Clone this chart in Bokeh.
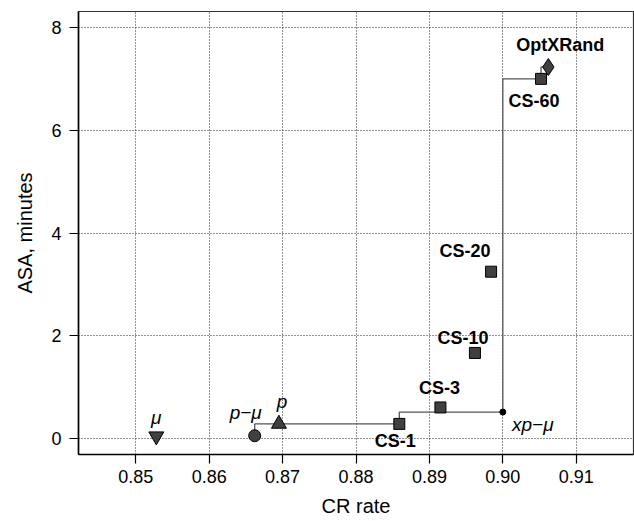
from bokeh.plotting import figure
from bokeh.models import Range1d, FixedTicker, NumeralTickFormatter, Label
from bokeh.embed import file_html
from bokeh.resources import INLINE

# ---- data ----
cs_names = ["CS-1", "CS-3", "CS-10", "CS-20", "CS-60"]
cs_cr = [0.8859, 0.8915, 0.8962, 0.8984, 0.9052]
cs_asa = [0.29, 0.61, 1.67, 3.25, 7.00]

mu_cr, mu_asa = [0.8528], [0.05]
pmu_cr, pmu_asa = [0.8662], [0.06]
p_cr, p_asa = [0.8695], [0.29]
xpmu_cr, xpmu_asa = [0.9000], [0.52]
opt_cr, opt_asa = [0.9062], [7.23]

# Pareto frontier (step line)
front_cr = [0.8662, 0.8859, 0.9000, 0.9052, 0.9062]
front_asa = [0.06, 0.29, 0.52, 7.00, 7.23]

x_ticks = [0.85, 0.86, 0.87, 0.88, 0.89, 0.90, 0.91]
y_ticks = [0, 2, 4, 6, 8]

FONT = "Liberation Sans"
FILL = "#404040"

p = figure(width=634, height=521, output_backend="svg", toolbar_location=None,
           x_range=Range1d(0.8422, 0.9178), y_range=Range1d(-0.305, 8.31),
           min_border_left=78, min_border_right=1, min_border_top=11, min_border_bottom=67)

p.background_fill_color = "white"
p.border_fill_color = "white"
p.outline_line_color = "#333333"
p.outline_line_width = 1.2

# grid
for g in (p.xgrid, p.ygrid):
    g.grid_line_color = "black"
    g.grid_line_dash = "1 2"
    g.grid_line_width = 1
    g.grid_line_alpha = 0.85
p.xgrid.ticker = FixedTicker(ticks=x_ticks)
p.ygrid.ticker = FixedTicker(ticks=y_ticks)

# axes
p.xaxis.ticker = FixedTicker(ticks=x_ticks)
p.yaxis.ticker = FixedTicker(ticks=y_ticks)
p.xaxis.formatter = NumeralTickFormatter(format="0.00")
p.xaxis.axis_label = "CR rate"
p.yaxis.axis_label = "ASA, minutes"
for ax in (p.xaxis, p.yaxis):
    ax.axis_line_color = "black"
    ax.axis_line_width = 1.6
    ax.major_tick_line_color = "black"
    ax.major_tick_line_width = 1.2
    ax.major_tick_out = 9
    ax.major_tick_in = 0
    ax.minor_tick_line_color = None
    ax.major_label_text_font = FONT
    ax.major_label_text_font_size = "18px"
    ax.major_label_text_color = "black"
    ax.axis_label_text_font = FONT
    ax.axis_label_text_font_size = "20px"
    ax.axis_label_text_font_style = "normal"
    ax.axis_label_text_color = "black"
p.xaxis.major_label_standoff = 6
p.yaxis.major_label_standoff = 8
p.xaxis.axis_label_standoff = 9
p.yaxis.axis_label_standoff = 12

# frontier step line
p.step(front_cr, front_asa, mode="before", line_color="#555555", line_width=1.3)

# markers
p.scatter(cs_cr, cs_asa, marker="square", size=11, fill_color=FILL, line_color="black", line_width=1)
p.scatter(mu_cr, mu_asa, marker="inverted_triangle", size=15, fill_color=FILL, line_color="black", line_width=1)
p.scatter(pmu_cr, pmu_asa, marker="circle", size=12, fill_color=FILL, line_color="black", line_width=1)
p.scatter(p_cr, p_asa, marker="triangle", size=15, fill_color=FILL, line_color="black", line_width=1)
p.scatter(opt_cr, opt_asa, marker="diamond", size=17, fill_color=FILL, line_color="black", line_width=1)
p.scatter(xpmu_cr, xpmu_asa, marker="circle", size=6, fill_color="black", line_color="black")

# labels (screen offsets: right, up)
bold_offsets = {"CS-1": (-4, -17), "CS-3": (-1, 19), "CS-10": (-12, 15),
                "CS-20": (-26, 21), "CS-60": (-7, -22)}
for name, x, y in zip(cs_names, cs_cr, cs_asa):
    dx, dy = bold_offsets[name]
    p.add_layout(Label(x=x, y=y, x_offset=dx, y_offset=dy, text=name,
                       text_font=FONT, text_font_size="18px", text_font_style="bold",
                       text_align="center", text_baseline="middle", text_color="black"))

p.add_layout(Label(x=opt_cr[0], y=opt_asa[0], x_offset=12, y_offset=22, text="OptXRand",
                   text_font=FONT, text_font_size="18px", text_font_style="bold",
                   text_align="center", text_baseline="middle", text_color="black"))

italic_labels = [("\u03bc", mu_cr[0], mu_asa[0], 0, 19),
                 ("p\u2212\u03bc", pmu_cr[0], pmu_asa[0], -9, 23),
                 ("p", p_cr[0], p_asa[0], 3, 22),
                 ("xp\u2212\u03bc", xpmu_cr[0], xpmu_asa[0], 30, -12)]
for txt, x, y, dx, dy in italic_labels:
    p.add_layout(Label(x=x, y=y, x_offset=dx, y_offset=dy, text=txt,
                       text_font=FONT, text_font_size="19px", text_font_style="italic",
                       text_align="center", text_baseline="middle", text_color="black"))

open("out.html", "w").write(file_html(p, INLINE))
